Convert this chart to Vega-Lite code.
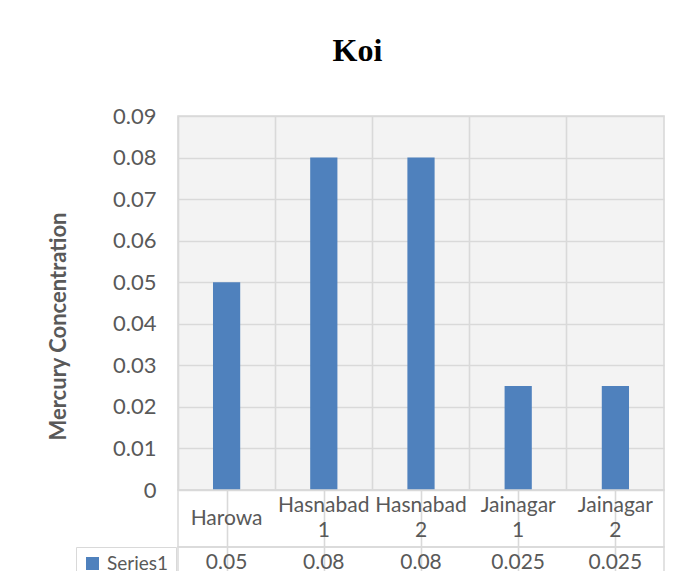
{
  "$schema": "https://vega.github.io/schema/vega-lite/v6.json",
  "padding": {"left": 46, "top": 35, "right": 10, "bottom": 0},
  "background": "white",
  "title": {"text": "Koi", "font": "Liberation Serif", "fontSize": 32, "fontWeight": "bold", "color": "black", "anchor": "middle", "offset": 36, "dx": 2},
  "data": {"values": [
    {"site": "Harowa", "hg": 0.05},
    {"site": "Hasnabad 1", "hg": 0.08},
    {"site": "Hasnabad 2", "hg": 0.08},
    {"site": "Jainagar 1", "hg": 0.025},
    {"site": "Jainagar 2", "hg": 0.025}
  ]},
  "spacing": 0,
  "bounds": "flush",
  "resolve": {"legend": {"color": "independent"}},
  "config": {
    "view": {"stroke": "#d9d9d9", "strokeWidth": 1.5},
    "font": "Lato",
    "axis": {"gridColor": "#d9d9d9", "gridWidth": 1.6, "domain": false, "ticks": false, "labelColor": "#595959", "titleColor": "#595959", "labelFont": "Lato", "titleFont": "Lato"}
  },
  "vconcat": [
    {
      "width": 486,
      "height": 374,
      "view": {"fill": "#f3f3f3", "stroke": "#d9d9d9", "strokeWidth": 1.6},
      "mark": {"type": "bar", "width": {"band": 0.28}},
      "encoding": {
        "x": {"field": "site", "type": "nominal", "sort": null,
              "scale": {"paddingInner": 0, "paddingOuter": 0},
              "axis": {"grid": true, "bandPosition": 0, "labels": false, "title": null}},
        "y": {"field": "hg", "type": "quantitative",
              "scale": {"domain": [0, 0.09], "nice": false},
              "axis": {"values": [0, 0.01, 0.02, 0.03, 0.04, 0.05, 0.06, 0.07, 0.08, 0.09],
                       "format": ".2~f", "labelFontSize": 22, "labelPadding": 22,
                       "title": "Mercury Concentration", "titleFontSize": 22, "titleFontWeight": "bold",
                       "titleX": -120, "titleY": 210, "titleBaseline": "middle", "titleAlign": "center"}},
        "color": {"datum": "Series1", "scale": {"range": ["#4f81bd"]},
                  "legend": {"title": null, "orient": "none", "legendX": -102, "legendY": 431,
                             "symbolType": "square", "symbolSize": 169, "symbolStrokeWidth": 0,
                             "labelFontSize": 19, "labelColor": "#595959", "labelFont": "Lato",
                             "strokeColor": "#d9d9d9", "padding": 7, "labelOffset": 5}}
      }
    },
    {
      "width": 486,
      "height": 57,
      "encoding": {
        "x": {"field": "site", "type": "nominal", "sort": null,
              "scale": {"paddingInner": 0, "paddingOuter": 0},
              "axis": {"grid": true, "bandPosition": 0, "labels": false, "title": null}},
        "text": {"field": "site"}
      },
      "layer": [
        {
          "transform": [{"filter": "indexof(datum.site, ' ') < 0"}],
          "mark": {"type": "text", "fontSize": 21, "color": "#595959", "baseline": "middle"}
        },
        {
          "transform": [{"filter": "indexof(datum.site, ' ') >= 0"}],
          "mark": {"type": "text", "fontSize": 21, "color": "#595959", "lineBreak": " ", "lineHeight": 25, "baseline": "middle", "dy": -12.5}
        }
      ]
    },
    {
      "width": 486,
      "height": 32,
      "mark": {"type": "text", "fontSize": 21, "color": "#595959", "baseline": "middle"},
      "encoding": {
        "x": {"field": "site", "type": "nominal", "sort": null,
              "scale": {"paddingInner": 0, "paddingOuter": 0},
              "axis": {"grid": true, "bandPosition": 0, "labels": false, "title": null}},
        "text": {"field": "hg", "type": "quantitative"}
      }
    }
  ]
}
